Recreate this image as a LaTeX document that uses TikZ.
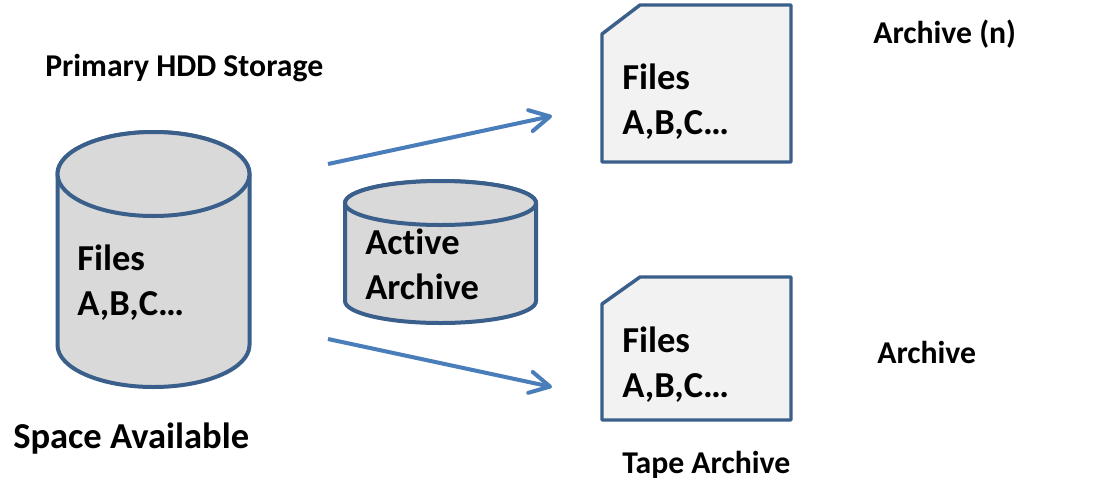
\documentclass[tikz,border=0pt]{standalone}
\usepackage{fontspec}
\setmainfont{Carlito}[UprightFont={* Bold}, BoldFont={* Bold}, Ligatures=NoCommon]
\usetikzlibrary{arrows.meta}
\definecolor{rim}{HTML}{3A5F8B}
\definecolor{drumfill}{HTML}{D9D9D9}
\definecolor{sheetfill}{HTML}{F2F2F2}
\definecolor{flow}{HTML}{4A7EBB}
\tikzset{
  drum/.style={draw=rim, line width=3pt, line join=round, fill=drumfill},
  sheet/.style={draw=rim, line width=2.6pt, line join=round, fill=sheetfill},
  bigtext/.style={font=\fontsize{27.4}{33.75}\selectfont, inner sep=0pt, align=left, anchor=base west},
  smalltext/.style={font=\fontsize{23.8}{28}\selectfont, inner sep=0pt, anchor=base west},
  flowarrow/.style={draw=flow, line width=3pt,
    -{Straight Barb[length=15pt,width=16pt,line cap=round,line join=round]}},
}
\begin{document}
\begin{tikzpicture}[x=0.75pt,y=-0.75pt]
\fill[white] (0,0) rectangle (1108,480);
\useasboundingbox (0,0) rectangle (1108,480);

% primary storage drum
\path[drum] (57.5,174) -- (57.5,345)
  arc[start angle=180,end angle=0,x radius=96,y radius=42] -- (249.5,174)
  arc[start angle=0,end angle=-180,x radius=96,y radius=42] -- cycle;
\path[drum] (153.5,174) ellipse[x radius=96,y radius=42];
% multi-line labels sit on the baseline of their last line
\node[bigtext] (primfiles) at (77,315) {Files\\A,B,C…};
\node[smalltext] (primlabel) at (45,76) {Primary HDD Storage};
\node[bigtext] (space) at (13,448) {Space Available};

% active archive drum
\path[drum] (345,203) -- (345,301)
  arc[start angle=180,end angle=0,x radius=95.5,y radius=22] -- (536,203)
  arc[start angle=0,end angle=-180,x radius=95.5,y radius=22] -- cycle;
\path[drum] (440.5,203) ellipse[x radius=95.5,y radius=22];
\node[bigtext] (active) at (365,299) {Active\\Archive};

% archive documents
\path[sheet] (602,34) -- (640,5) -- (791,5) -- (791,162) -- (602,162) -- cycle;
\node[bigtext] (nfiles) at (622,134) {Files\\A,B,C…};
\node[smalltext] (nlabel) at (873,43) {Archive (n)};

\path[sheet] (602,304) -- (640,277) -- (791,277) -- (791,420) -- (602,420) -- cycle;
\node[bigtext] (tfiles) at (622,397) {Files\\A,B,C…};
\node[smalltext] (tlabel) at (877,363) {Archive};
\node[smalltext] (tape) at (622,473) {Tape Archive};

% flows
\coordinate (upfrom) at (328,164);
\coordinate (upto) at (552,116);
\coordinate (downfrom) at (328,339);
\coordinate (downto) at (552,387);
\draw[flowarrow] (upfrom) -- (upto);
\draw[flowarrow] (downfrom) -- (downto);
\end{tikzpicture}
\end{document}
